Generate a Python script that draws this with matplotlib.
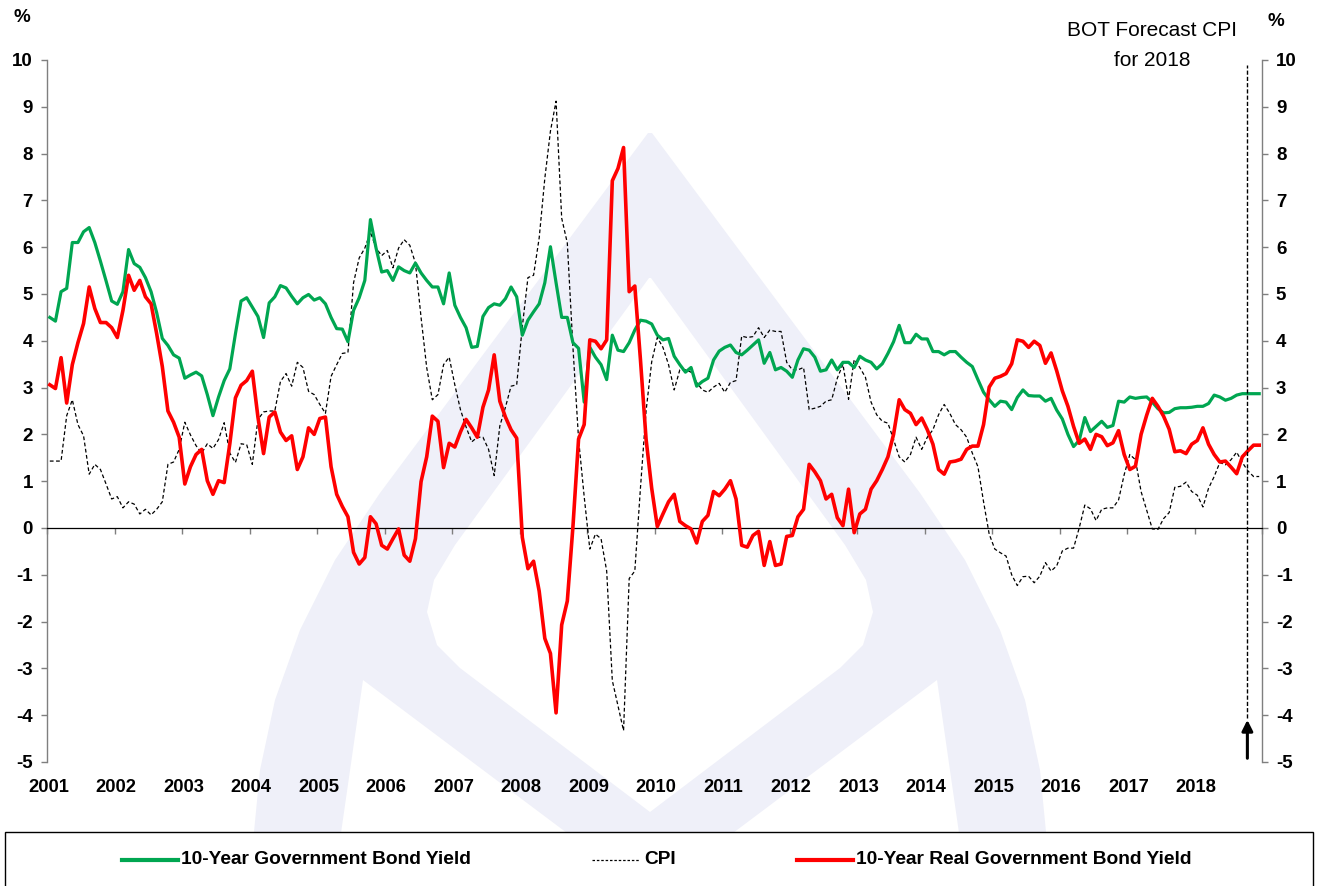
import matplotlib
matplotlib.use("Agg")
import matplotlib.pyplot as plt
import matplotlib.transforms as mtransforms
from matplotlib.lines import Line2D
from matplotlib.patches import Rectangle, Polygon
import numpy as np

plt.rcParams['font.family'] = ['Liberation Sans', 'DejaVu Sans']

# ---------------- data (monthly, Jan 2001 - Dec 2018) ----------------
years = list(range(2001, 2019))

bond_yield = [
    4.5, 4.42, 5.05, 5.12, 6.1, 6.1, 6.33, 6.42, 6.1, 5.7, 5.28, 4.85,      # 2001
    4.78, 5.05, 5.95, 5.65, 5.57, 5.35, 5.05, 4.6, 4.05, 3.9, 3.7, 3.63,    # 2002
    3.2, 3.27, 3.33, 3.25, 2.85, 2.4, 2.8, 3.15, 3.4, 4.15, 4.85, 4.92,     # 2003
    4.72, 4.52, 4.07, 4.81, 4.94, 5.18, 5.13, 4.95, 4.79, 4.92, 4.99, 4.87, # 2004
    4.92, 4.79, 4.5, 4.26, 4.25, 3.98, 4.65, 4.92, 5.29, 6.59, 5.98, 5.47,  # 2005
    5.5, 5.29, 5.58, 5.5, 5.45, 5.66, 5.45, 5.29, 5.15, 5.15, 4.79, 5.45,   # 2006
    4.76, 4.5, 4.28, 3.86, 3.88, 4.52, 4.71, 4.79, 4.76, 4.9, 5.15, 4.94,   # 2007
    4.12, 4.44, 4.62, 4.79, 5.24, 6.01, 5.24, 4.5, 4.5, 3.96, 3.84, 2.69,   # 2008
    3.86, 3.65, 3.49, 3.17, 4.12, 3.8, 3.77, 3.96, 4.23, 4.44, 4.42, 4.36,  # 2009
    4.12, 4.02, 4.05, 3.67, 3.49, 3.33, 3.43, 3.03, 3.13, 3.2, 3.59, 3.78,  # 2010
    3.86, 3.91, 3.75, 3.7, 3.8, 3.91, 4.02, 3.52, 3.75, 3.38, 3.43, 3.35,   # 2011
    3.22, 3.59, 3.83, 3.8, 3.65, 3.35, 3.38, 3.59, 3.38, 3.54, 3.54, 3.43,  # 2012
    3.67, 3.59, 3.54, 3.4, 3.51, 3.73, 3.98, 4.33, 3.96, 3.96, 4.14, 4.04,  # 2013
    4.04, 3.77, 3.77, 3.7, 3.77, 3.77, 3.65, 3.54, 3.45, 3.17, 2.9, 2.74,   # 2014
    2.6, 2.71, 2.69, 2.53, 2.79, 2.95, 2.83, 2.82, 2.82, 2.71, 2.77, 2.52,  # 2015
    2.33, 2.0, 1.74, 1.87, 2.36, 2.06, 2.17, 2.28, 2.15, 2.19, 2.71, 2.69,  # 2016
    2.8, 2.77, 2.79, 2.8, 2.69, 2.55, 2.46, 2.47, 2.55, 2.57, 2.57, 2.58,   # 2017
    2.6, 2.6, 2.66, 2.84, 2.8, 2.73, 2.77, 2.84, 2.87, 2.87, 2.87, 2.87,    # 2018
]

cpi = [
    1.43, 1.43, 1.43, 2.4, 2.74, 2.21, 1.97, 1.15, 1.36, 1.25, 0.94, 0.62,      # 2001
    0.67, 0.43, 0.56, 0.51, 0.3, 0.4, 0.28, 0.4, 0.56, 1.36, 1.41, 1.68,        # 2002
    2.26, 1.99, 1.76, 1.6, 1.8, 1.7, 1.89, 2.25, 1.6, 1.4, 1.8, 1.78,           # 2003
    1.36, 2.32, 2.48, 2.5, 2.5, 3.13, 3.3, 3.03, 3.54, 3.43, 2.92, 2.85,        # 2004
    2.64, 2.45, 3.24, 3.49, 3.73, 3.75, 5.24, 5.77, 5.98, 6.32, 5.98, 5.82,     # 2005
    5.93, 5.56, 5.98, 6.16, 6.04, 5.66, 4.5, 3.43, 2.74, 2.85, 3.49, 3.65,      # 2006
    3.06, 2.53, 2.16, 1.84, 1.94, 1.94, 1.68, 1.12, 2.18, 2.58, 3.03, 3.06,     # 2007
    4.3, 5.35, 5.4, 6.2, 7.47, 8.48, 9.12, 6.62, 6.09, 3.86, 1.9, 0.67,         # 2008
    -0.45, -0.13, -0.23, -0.92, -3.26, -3.79, -4.33, -1.08, -0.92, 0.85, 2.5, 3.55,  # 2009
    4.07, 3.86, 3.49, 2.95, 3.38, 3.38, 3.33, 3.11, 2.95, 2.9, 3.01, 3.09,      # 2010
    2.9, 3.11, 3.15, 4.1, 4.07, 4.09, 4.28, 4.07, 4.23, 4.2, 4.2, 3.54,         # 2011
    3.38, 3.38, 3.43, 2.53, 2.56, 2.6, 2.71, 2.74, 3.2, 3.5, 2.75, 3.6,         # 2012
    3.43, 3.22, 2.69, 2.42, 2.28, 2.24, 1.89, 1.52, 1.41, 1.57, 1.94, 1.68,     # 2013
    1.94, 2.1, 2.42, 2.64, 2.45, 2.21, 2.1, 1.94, 1.6, 1.31, 0.56, -0.13,       # 2014
    -0.45, -0.53, -0.6, -1.0, -1.23, -1.04, -1.03, -1.17, -1.03, -0.74, -0.92, -0.81,  # 2015
    -0.49, -0.43, -0.43, 0.0, 0.49, 0.41, 0.16, 0.4, 0.43, 0.43, 0.6, 1.14,     # 2016
    1.57, 1.46, 0.78, 0.38, -0.02, -0.03, 0.2, 0.33, 0.87, 0.89, 0.98, 0.78,    # 2017
    0.7, 0.45, 0.85, 1.1, 1.4, 1.35, 1.46, 1.62, 1.4, 1.22, 1.1, 1.1,           # 2018
]

real_yield = [
    3.06, 2.98, 3.64, 2.67, 3.49, 3.96, 4.37, 5.15, 4.69, 4.39, 4.39, 4.28,     # 2001
    4.07, 4.65, 5.4, 5.08, 5.29, 4.94, 4.79, 4.15, 3.45, 2.5, 2.26, 1.94,       # 2002
    0.94, 1.31, 1.57, 1.68, 1.01, 0.72, 1.01, 0.97, 1.8, 2.78, 3.05, 3.15,      # 2003
    3.35, 2.37, 1.59, 2.37, 2.48, 2.05, 1.87, 1.97, 1.25, 1.52, 2.14, 2.0,      # 2004
    2.34, 2.37, 1.31, 0.72, 0.46, 0.24, -0.52, -0.77, -0.63, 0.24, 0.09, -0.37, # 2005
    -0.45, -0.23, -0.02, -0.58, -0.71, -0.23, 0.99, 1.52, 2.39, 2.28, 1.29, 1.81,  # 2006
    1.73, 2.05, 2.32, 2.14, 1.94, 2.58, 2.95, 3.7, 2.71, 2.37, 2.1, 1.92,       # 2007
    -0.2, -0.87, -0.71, -1.35, -2.36, -2.68, -3.95, -2.07, -1.56, 0.03, 1.9, 2.21,  # 2008
    4.02, 3.99, 3.83, 4.02, 7.42, 7.68, 8.13, 5.05, 5.17, 3.6, 1.9, 0.85,       # 2009
    0.03, 0.3, 0.56, 0.72, 0.14, 0.05, -0.02, -0.32, 0.14, 0.27, 0.78, 0.69,    # 2010
    0.83, 1.01, 0.62, -0.37, -0.41, -0.16, -0.07, -0.8, -0.29, -0.8, -0.77, -0.18,  # 2011
    -0.16, 0.24, 0.4, 1.36, 1.2, 1.01, 0.62, 0.72, 0.22, 0.05, 0.83, -0.1,      # 2012
    0.3, 0.4, 0.83, 1.01, 1.25, 1.52, 2.0, 2.74, 2.53, 2.45, 2.21, 2.35,        # 2013
    2.1, 1.79, 1.25, 1.15, 1.41, 1.43, 1.47, 1.68, 1.75, 1.75, 2.21, 3.01,      # 2014
    3.2, 3.24, 3.3, 3.51, 4.02, 3.99, 3.86, 3.99, 3.9, 3.52, 3.74, 3.36,        # 2015
    2.93, 2.6, 2.17, 1.81, 1.9, 1.68, 2.0, 1.95, 1.76, 1.82, 2.08, 1.57,        # 2016
    1.25, 1.32, 2.0, 2.41, 2.77, 2.6, 2.39, 2.11, 1.63, 1.65, 1.59, 1.79,       # 2017
    1.87, 2.14, 1.79, 1.57, 1.41, 1.43, 1.3, 1.16, 1.52, 1.65, 1.77, 1.77,      # 2018
]

series_labels = ["10-Year Government Bond Yield", "CPI", "10-Year Real Government Bond Yield"]
forecast_label = ["BOT Forecast CPI", "for 2018"]
forecast_month = 213.4   # position of the forecast marker (months since Jan 2001)

# ---------------- figure ----------------
W, H = 1317, 886
fig = plt.figure(figsize=(W / 100, H / 100), dpi=100)
fig.patch.set_facecolor('white')


def fp(pts):
    """pixel coords (x right, y down) -> figure fraction"""
    return [(px / W, 1 - py / H) for px, py in pts]


def mirrored(half, cx=650):
    return half + [(2 * cx - px, py) for px, py in reversed(half)]


# faint background logo (watermark)
WM = '#EFF0F9'
outer_half = [(254, 832), (260, 770), (275, 700), (300, 630), (335, 560), (380, 493), (648, 133)]
inner_half = [(650, 812), (460, 668), (437, 645), (427, 612), (434, 580), (455, 545), (649, 278)]
fig.add_artist(Polygon(fp(mirrored(outer_half)), closed=True, transform=fig.transFigure,
                       facecolor=WM, edgecolor='none', zorder=-3))
fig.add_artist(Polygon(fp(mirrored(inner_half)), closed=True, transform=fig.transFigure,
                       facecolor='white', edgecolor='none', zorder=-2))
for wedge in ([(363, 680), (341, 833), (567, 833)], [(937, 680), (959, 833), (733, 833)]):
    fig.add_artist(Polygon(fp(wedge), closed=True, transform=fig.transFigure,
                           facecolor='white', edgecolor='none', zorder=-2))

L, R, T, B = 47, 1262, 60, 762
ax = fig.add_axes([L / W, 1 - B / H, (R - L) / W, (B - T) / H])
ax.set_facecolor('none')

n = len(bond_yield)
x = np.arange(n) + 0.5
GREEN = '#00A651'
RED = '#FF0000'

ax.plot(x, cpi, color='black', lw=0.9, ls=(0, (3, 2)), zorder=3)
ax.plot(x, bond_yield, color=GREEN, lw=2.3, zorder=4, solid_joinstyle='round')
ax.plot(x, real_yield, color=RED, lw=2.6, zorder=5, solid_joinstyle='round')

ax.set_xlim(0, 12 * len(years))
ax.set_ylim(-5, 10)

# spines
ax.spines['top'].set_visible(False)
ax.spines['bottom'].set_position(('data', 0))
ax.spines['bottom'].set_color('black')
ax.spines['bottom'].set_linewidth(0.9)
for s in ('left', 'right'):
    ax.spines[s].set_color('#7f7f7f')
    ax.spines[s].set_linewidth(1.0)

# x ticks on the zero line, labels at the bottom
ax.set_xticks(np.arange(0, 12 * len(years) + 1, 12))
ax.tick_params(axis='x', direction='out', length=4, width=1, color='#7f7f7f', labelbottom=False)
trans = mtransforms.blended_transform_factory(ax.transData, ax.transAxes)
for i, yr in enumerate(years):
    ax.text(12 * i + 0.3, -0.037, str(yr), transform=trans, ha='center', va='center',
            fontsize=13.2, fontweight='bold')

# y ticks both sides
ax.set_yticks(np.arange(-5, 11, 1))
ax.set_yticklabels([str(v) for v in range(-5, 11)])
ax.tick_params(axis='y', direction='out', length=4, width=1, color='#7f7f7f',
               left=True, right=True, labelleft=True, labelright=True, pad=6, labelsize=13.5)
for tk in ax.yaxis.get_major_ticks():
    tk.label1.set_fontweight('bold')
    tk.label2.set_fontweight('bold')

# % labels
fig.text(22 / W, 1 - 18 / H, '%', ha='center', va='center', fontsize=13.5, fontweight='bold')
fig.text(1276 / W, 1 - 22 / H, '%', ha='center', va='center', fontsize=13.5, fontweight='bold')

# forecast marker
fig.text(1152 / W, 1 - 30 / H, forecast_label[0], ha='center', va='center', fontsize=15)
fig.text(1152 / W, 1 - 60 / H, forecast_label[1], ha='center', va='center', fontsize=15)
ax.vlines(forecast_month, -4.05, 9.9, colors='black', linestyles=(0, (3, 1.5)), lw=1.0, zorder=6)
ax.annotate('', xy=(forecast_month, -4.1), xytext=(forecast_month, -4.92),
            arrowprops=dict(arrowstyle='-|>', color='black', lw=2.2, mutation_scale=16,
                            shrinkA=0, shrinkB=0), zorder=6)

# legend box
fig.add_artist(Rectangle((5 / W, -0.02), 1308 / W, 0.02 + (886 - 832) / H,
                         transform=fig.transFigure, facecolor='white', edgecolor='black', lw=1.0,
                         zorder=1))
ly = 1 - 860 / H
fig.add_artist(Line2D([122 / W, 178 / W], [ly, ly], transform=fig.transFigure, color=GREEN, lw=3,
                      zorder=2))
fig.text(181 / W, ly, series_labels[0], ha='left', va='center', fontsize=13.8, fontweight='bold',
         zorder=2)
fig.add_artist(Line2D([592 / W, 640 / W], [ly, ly], transform=fig.transFigure, color='black',
                      lw=0.9, ls=(0, (2, 1.5)), zorder=2))
fig.text(644 / W, ly, series_labels[1], ha='left', va='center', fontsize=13.8, fontweight='bold',
         zorder=2)
fig.add_artist(Line2D([797 / W, 853 / W], [ly, ly], transform=fig.transFigure, color=RED, lw=3,
                      zorder=2))
fig.text(856 / W, ly, series_labels[2], ha='left', va='center', fontsize=13.8, fontweight='bold',
         zorder=2)

fig.savefig('out.png', dpi=100, facecolor='white')
